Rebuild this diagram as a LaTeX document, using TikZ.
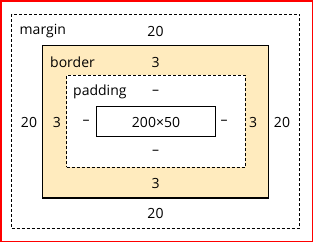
\documentclass[tikz,border=0pt]{standalone}
\usepackage{fontspec}
\setmainfont{Open Sans}
\definecolor{bfill}{RGB}{255,235,190}
\begin{document}
\begin{tikzpicture}[x=1pt,y=-1pt,
  dbox/.style={draw=black,line width=1pt,dash pattern=on 3pt off 2pt},
  sbox/.style={draw=black,line width=1.2pt},
  lbl/.style={font=\fontsize{14}{16}\selectfont,inner sep=0pt,text=black}]
\useasboundingbox (0,0) rectangle (313,242);
\draw[red,line width=1.5pt] (0.75,0.75) rectangle (312.25,241.25);
\node[dbox,minimum width=288pt,minimum height=214pt,inner sep=0pt] (margin) at (155.6,121.4) {};
\node[sbox,fill=bfill,minimum width=226pt,minimum height=152.5pt,inner sep=0pt] (border) at (155.4,121.8) {};
\node[dbox,fill=white,minimum width=178.6pt,minimum height=91.7pt,inner sep=0pt] (padding) at (156,121.2) {};
\node[sbox,minimum width=118.6pt,minimum height=30.4pt,inner sep=0pt] (content) at (156,121.5) {};
\node[lbl,anchor=west] (tm) at (19.5,31) {margin};
\node[lbl] (m1) at (155.5,31) {20};
\node[lbl] (m2) at (29,122) {20};
\node[lbl] (m3) at (282,122) {20};
\node[lbl] (m4) at (155.5,213) {20};
\node[lbl,anchor=west] (tb) at (50,62) {border};
\node[lbl] (b1) at (155.5,62) {3};
\node[lbl] (b2) at (57,122) {3};
\node[lbl] (b3) at (253,122) {3};
\node[lbl] (b4) at (155.5,183) {3};
\node[lbl,anchor=west] (tp) at (73,92) {padding};
\node[lbl] (p1) at (155.5,92) {–};
\node[lbl] (p2) at (86,122) {–};
\node[lbl] (p3) at (224,122) {–};
\node[lbl] (p4) at (155.5,152) {–};
\node[lbl] (c) at (156,122) {200×50};
\end{tikzpicture}
\end{document}
